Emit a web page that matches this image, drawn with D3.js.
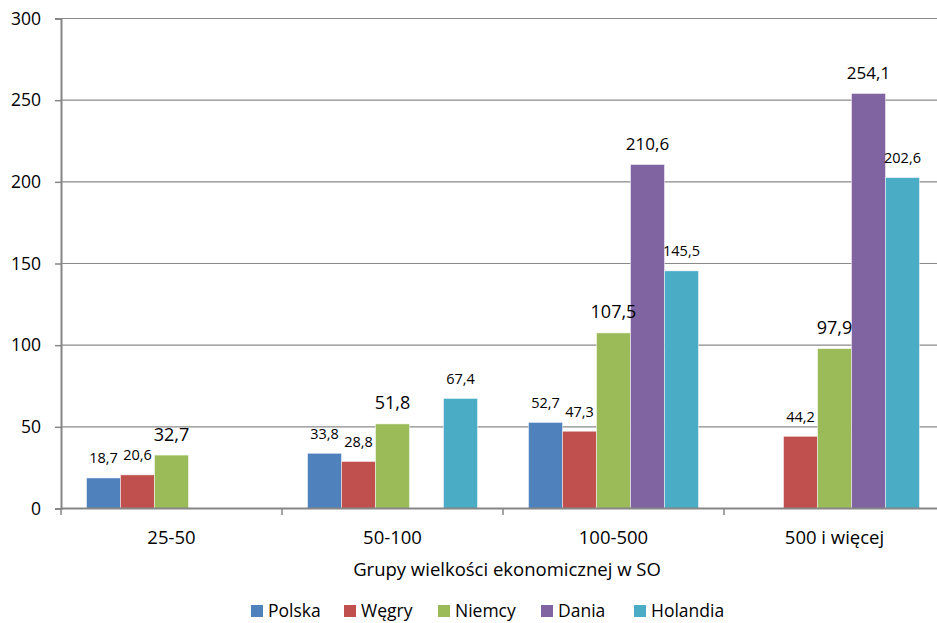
<!DOCTYPE html>
<html><head><meta charset="utf-8">
<script src="https://cdn.jsdelivr.net/npm/d3@7"></script>
<style>
html,body{margin:0;padding:0;background:#fff;}
svg{display:block;font-family:"Open Sans",Lato,sans-serif;}
</style></head>
<body>
<svg id="chart" width="937" height="623"></svg>
<script>
const categories = ["25-50", "50-100", "100-500", "500 i więcej"];
const seriesNames = ["Polska", "Węgry", "Niemcy", "Dania", "Holandia"];
const polska   = [18.7, 33.8, 52.7, null];
const wegry    = [20.6, 28.8, 47.3, 44.2];
const niemcy   = [32.7, 51.8, 107.5, 97.9];
const dania    = [null, null, 210.6, 254.1];
const holandia = [null, 67.4, 145.5, 202.6];
const yTicks = [0, 50, 100, 150, 200, 250, 300];
const axisTitle = "Grupy wielkości ekonomicznej w SO";

(function () {
const seriesValues = [polska, wegry, niemcy, dania, holandia];
const colors = ["#4F81BD", "#C0504D", "#9BBB59", "#8064A2", "#4BACC6"];
const labelSizes = [14.5, 14.5, 18, 17, 14.5];

const svg = d3.select("#chart");
const pLeft = 61, pRight = 945, pTop = 18.5, pBottom = 508.5;

const x = d3.scaleBand().domain(categories).range([pLeft, pRight]).padding(0);
const xs = d3.scaleBand().domain(seriesNames).range([0, x.bandwidth()]).paddingInner(0).paddingOuter(0.75);
const y = d3.scaleLinear().domain([0, 300]).range([pBottom, pTop]);

// gridlines
svg.append("g").selectAll("line").data(yTicks.filter(t => t > 0)).join("line")
  .attr("x1", pLeft).attr("x2", pRight)
  .attr("y1", d => y(d)).attr("y2", d => y(d))
  .attr("stroke", "#8a8a8a").attr("stroke-width", 1.2);

// y axis
const yAxis = svg.append("g").attr("transform", `translate(${pLeft},0)`)
  .call(d3.axisLeft(y).tickValues(yTicks).tickSize(6).tickPadding(14).tickFormat(d => d));
yAxis.select(".domain").attr("stroke", "#868686").attr("stroke-width", 2);
yAxis.selectAll(".tick line").attr("stroke", "#868686").attr("stroke-width", 1.5);
yAxis.selectAll("text").attr("font-size", 17.5).attr("fill", "#000")
  .attr("font-family", "'Open Sans', sans-serif");

// bars
const flat = [];
seriesValues.forEach((vals, si) => vals.forEach((v, ci) => {
  if (v !== null) flat.push({s: seriesNames[si], si, c: categories[ci], v});
}));

svg.append("g").selectAll("rect").data(flat).join("rect")
  .attr("x", d => x(d.c) + xs(d.s))
  .attr("width", xs.bandwidth())
  .attr("y", d => y(d.v))
  .attr("height", d => y(0) - y(d.v))
  .attr("fill", d => colors[d.si])
  .attr("stroke", "rgba(255,255,255,0.6)").attr("stroke-width", 0.8);

// labels
svg.append("g").selectAll("text").data(flat).join("text")
  .attr("x", d => x(d.c) + xs(d.s) + xs.bandwidth() / 2)
  .attr("y", d => y(d.v) - 14.5)
  .attr("text-anchor", "middle")
  .attr("font-size", d => labelSizes[d.si])
  .attr("fill", "#000")
  .text(d => d.v.toFixed(1).replace(".", ","));

// x axis
const xAxisG = svg.append("g");
xAxisG.append("line").attr("x1", pLeft).attr("x2", pRight)
  .attr("y1", pBottom).attr("y2", pBottom)
  .attr("stroke", "#868686").attr("stroke-width", 2);
const boundaries = categories.map(c => x(c)).concat([pRight]);
xAxisG.selectAll("line.tk").data(boundaries).join("line").attr("class", "tk")
  .attr("x1", d => d).attr("x2", d => d)
  .attr("y1", pBottom).attr("y2", pBottom + 6.5)
  .attr("stroke", "#868686").attr("stroke-width", 1.5);
xAxisG.selectAll("text").data(categories).join("text")
  .attr("x", d => x(d) + x.bandwidth() / 2)
  .attr("y", 544)
  .attr("text-anchor", "middle")
  .attr("font-size", 18.5).attr("fill", "#000")
  .text(d => d);

svg.append("text").attr("x", 507).attr("y", 576)
  .attr("text-anchor", "middle").attr("font-size", 18.5).attr("fill", "#000")
  .text(axisTitle);

// legend
const legend = svg.append("g");
const legendX = [251, 344, 438, 541, 634];
seriesNames.forEach((n, i) => {
  const g = legend.append("g").attr("transform", `translate(${legendX[i]},0)`);
  g.append("rect").attr("x", 0).attr("y", 605).attr("width", 12).attr("height", 12).attr("fill", colors[i]);
  g.append("text").attr("x", 17).attr("y", 617).attr("font-size", 17.5).attr("fill", "#000").text(n);
});
})();
</script>
</body></html>
